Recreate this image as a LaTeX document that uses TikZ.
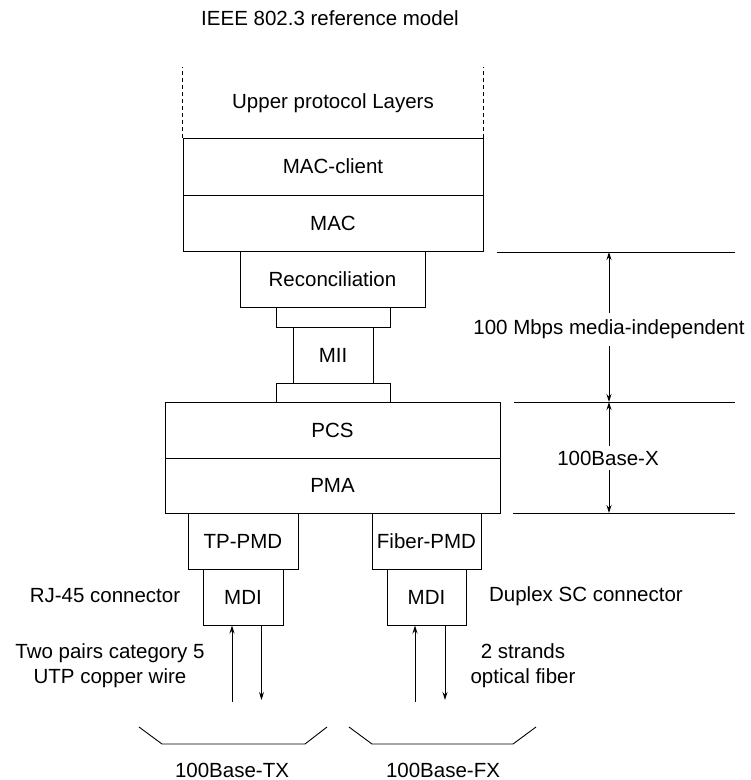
\documentclass[tikz,border=0pt]{standalone}
\usepackage{fontspec}
\setmainfont{Liberation Sans}
\usetikzlibrary{arrows.meta}
\tikzset{
  layer/.style={draw, line width=1pt, inner sep=0pt, minimum width=#1},
  layer/.default=300pt,
  lbl/.style={inner sep=0pt, align=center},
  rule/.style={line width=0.9pt},
}
\begin{document}
\begin{tikzpicture}[x=1pt, y=-1pt, >={Stealth[length=8pt,width=5pt]},
  font=\fontsize{20.5}{25}\selectfont]
\useasboundingbox (0,0) rectangle (751,780);
\node[lbl] (title) at (330,18) {IEEE 802.3 reference model};
\node[lbl] (upper) at (333,103) {Upper protocol Layers};
% protocol stack
\node[layer=300pt, minimum height=57pt] (mclient) at (333,166.5) {MAC-client};
\node[layer=300pt, minimum height=56pt] (mac) at (333,223) {MAC};
\node[layer=185pt, minimum height=56pt] (recon) at (332.5,279) {Reconciliation};
\node[layer=114pt, minimum height=20pt] (conA) at (333,317) {};
\node[layer=80pt, minimum height=56pt] (mii) at (333,355) {MII};
\node[layer=114pt, minimum height=19pt] (conB) at (333,392.5) {};
\node[layer=335pt, minimum height=56pt] (pcs) at (332.5,430) {PCS};
\node[layer=335pt, minimum height=55pt] (pma) at (332.5,485.5) {PMA};
\node[layer=110pt, minimum height=56pt] (tppmd) at (243,541) {TP-PMD};
\node[layer=109pt, minimum height=56pt] (fibpmd) at (426.5,541) {Fiber-PMD};
\node[layer=80pt, minimum height=56pt] (mdiA) at (243,597) {MDI};
\node[layer=79pt, minimum height=56pt] (mdiB) at (426.5,597) {MDI};
\draw[rule, dash pattern=on 4pt off 3pt] (mclient.north west) -- ++(0,-71);
\draw[rule, dash pattern=on 4pt off 3pt] (mclient.north east) -- ++(0,-71);
% scope lines on the right
\node[lbl] (mii100) at (609,329) {100 Mbps media-independent};
\node[lbl] (basex) at (608,458) {100Base-X};
\coordinate (topA) at (609,252);
\coordinate (midA) at (609,402);
\coordinate (botA) at (609,513);
\coordinate (miiup) at (609,313);
\coordinate (miidn) at (609,346);
\coordinate (bxup) at (609,446);
\coordinate (bxdn) at (609,470);
\draw[rule] (497,252) -- (735,252);
\draw[rule] (514,402) -- (735,402);
\draw[rule] (513,513) -- (735,513);
\draw[rule,->] (miiup) -- (topA);
\draw[rule,->] (miidn) -- (midA);
\draw[rule,->] (bxup) -- (midA);
\draw[rule,->] (bxdn) -- (botA);
% media side
\node[lbl] (rj45) at (105,596) {RJ-45 connector};
\node[lbl] (duplex) at (586,596) {Duplex SC connector};
\node[lbl] (utp) at (110,665.5) {Two pairs category 5\\UTP copper wire};
\node[lbl] (strands) at (523,665.5) {2 strands\\optical fiber};
\coordinate (txin) at (232,702);
\coordinate (txout) at (261.5,700);
\coordinate (fxin) at (415,702);
\coordinate (fxout) at (445,700);
\draw[rule,->] (txin) -- (txin |- mdiA.south);
\draw[rule,->] (txout |- mdiA.south) -- (txout);
\draw[rule,->] (fxin) -- (fxin |- mdiB.south);
\draw[rule,->] (fxout |- mdiB.south) -- (fxout);
\draw[rule] (139,727) -- (162,744) -- (305,744) -- (327,727);
\draw[rule] (349,727) -- (372,744) -- (513,744) -- (536,727);
\node[lbl] (basetx) at (232,770) {100Base-TX};
\node[lbl] (basefx) at (443,770) {100Base-FX};
\end{tikzpicture}
\end{document}
